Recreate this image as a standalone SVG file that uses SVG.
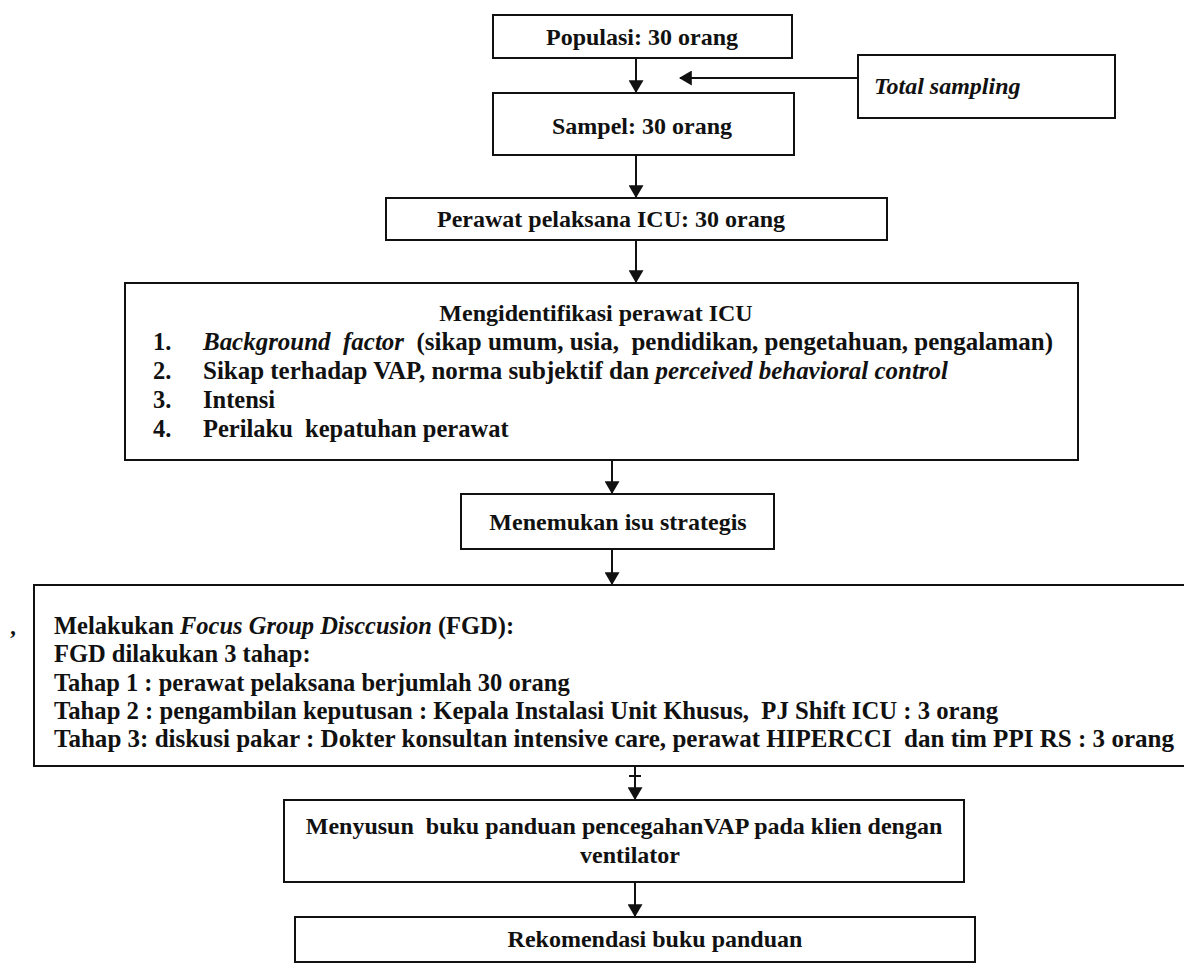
<svg xmlns="http://www.w3.org/2000/svg" width="1184" height="971" viewBox="0 0 1184 971">
<defs>
<style>
.box{fill:#fff;stroke:#111;stroke-width:2}
.t{font-family:"Liberation Serif","Times New Roman",serif;font-weight:bold;font-size:24px;fill:#111}
.b{font-size:24.5px}
.c{text-anchor:middle}
.i{font-style:italic}
.ln{stroke:#111;stroke-width:2;fill:none}
</style>
<marker id="ah" viewBox="0 0 12 14" refX="11" refY="7" markerWidth="13" markerHeight="15" markerUnits="userSpaceOnUse" orient="auto">
<path d="M0,0 L12,7 L0,14 Z" fill="#111"/>
</marker>
</defs>
<rect width="1184" height="971" fill="#fff"/>
<g id="connectors">
<line class="ln" x1="636" y1="58" x2="636" y2="92" marker-end="url(#ah)"/>
<line class="ln" x1="858" y1="78" x2="680" y2="78" marker-end="url(#ah)"/>
<line class="ln" x1="636" y1="155" x2="636" y2="197" marker-end="url(#ah)"/>
<line class="ln" x1="636" y1="240" x2="636" y2="282" marker-end="url(#ah)"/>
<line class="ln" x1="612" y1="460" x2="612" y2="493" marker-end="url(#ah)"/>
<line class="ln" x1="612" y1="549" x2="612" y2="584" marker-end="url(#ah)"/>
<line class="ln" x1="635" y1="766" x2="635" y2="799" marker-end="url(#ah)"/>
<line class="ln" x1="629" y1="776" x2="641" y2="776" stroke-width="1.5"/>
<line class="ln" x1="635" y1="882" x2="635" y2="916" marker-end="url(#ah)"/>
</g>
<g id="populasi">
<rect class="box" x="493" y="15" width="299" height="43"/>
<text class="t c" x="642" y="45">Populasi: 30 orang</text>
</g>
<g id="total-sampling">
<rect class="box" x="858" y="55" width="257" height="63"/>
<text class="t i" x="874" y="94" font-size="25">Total sampling</text>
</g>
<g id="sampel">
<rect class="box" x="493" y="93" width="301" height="62"/>
<text class="t c" x="642" y="134">Sampel: 30 orang</text>
</g>
<g id="perawat">
<rect class="box" x="386" y="198" width="501" height="42"/>
<text class="t" x="437" y="227">Perawat pelaksana ICU: 30 orang</text>
</g>
<g id="mengidentifikasi">
<rect class="box" x="125" y="283" width="953" height="177"/>
<text class="t c" x="596" y="321">Mengidentifikasi perawat ICU</text>
<text class="t b" x="153" y="350">1.</text>
<text class="t b" x="203" y="350" textLength="850" lengthAdjust="spacingAndGlyphs" xml:space="preserve"><tspan class="i">Background  factor</tspan>  (sikap umum, usia,  pendidikan, pengetahuan, pengalaman)</text>
<text class="t b" x="153" y="379">2.</text>
<text class="t b" x="203" y="379" textLength="745" lengthAdjust="spacingAndGlyphs">Sikap terhadap VAP, norma subjektif dan <tspan class="i">perceived behavioral control</tspan></text>
<text class="t b" x="153" y="408">3.</text>
<text class="t b" x="203" y="408">Intensi</text>
<text class="t b" x="153" y="437">4.</text>
<text class="t b" x="203" y="437" xml:space="preserve">Perilaku  kepatuhan perawat</text>
</g>
<g id="menemukan">
<rect class="box" x="461" y="494" width="313" height="55"/>
<text class="t c" x="618" y="530">Menemukan isu strategis</text>
</g>
<g id="fgd">
<rect class="box" x="34" y="585" width="1160" height="181"/>
<text class="t b" x="54" y="634">Melakukan <tspan class="i">Focus Group Disccusion</tspan> (FGD):</text>
<text class="t b" x="54" y="662">FGD dilakukan 3 tahap:</text>
<text class="t b" x="54" y="691">Tahap 1 : perawat pelaksana berjumlah 30 orang</text>
<text class="t b" x="54" y="719" textLength="944" lengthAdjust="spacingAndGlyphs" xml:space="preserve">Tahap 2 : pengambilan keputusan : Kepala Instalasi Unit Khusus,  PJ Shift ICU : 3 orang</text>
<text class="t b" x="54" y="747" textLength="1120" lengthAdjust="spacingAndGlyphs" xml:space="preserve">Tahap 3: diskusi pakar : Dokter konsultan intensive care, perawat HIPERCCI  dan tim PPI RS : 3 orang</text>
<text class="t i" x="11" y="634" font-size="20">,</text>
</g>
<g id="menyusun">
<rect class="box" x="284" y="800" width="680" height="82"/>
<text class="t c" x="624" y="834" xml:space="preserve">Menyusun  buku panduan pencegahanVAP pada klien dengan</text>
<text class="t c" x="630" y="863">ventilator</text>
</g>
<g id="rekomendasi">
<rect class="box" x="295" y="917" width="680" height="45"/>
<text class="t c" x="655" y="947">Rekomendasi buku panduan</text>
</g>
</svg>
